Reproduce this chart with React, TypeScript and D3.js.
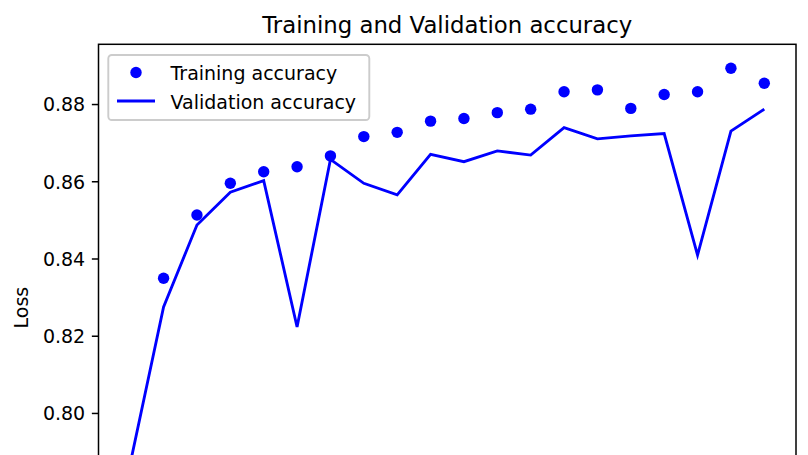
import React from "react";
import * as d3 from "d3";

const epochs = [1, 2, 3, 4, 5, 6, 7, 8, 9, 10, 11, 12, 13, 14, 15, 16, 17, 18, 19, 20];
const trainingAccuracy = [
  0.7654, 0.835, 0.8514, 0.8596, 0.8626, 0.8639, 0.8667, 0.8717, 0.8728, 0.8757,
  0.8764, 0.8779, 0.8788, 0.8833, 0.8838, 0.879, 0.8826, 0.8833, 0.8894, 0.8855,
];
const validationAccuracy = [
  0.787, 0.8276, 0.8488, 0.8573, 0.8603, 0.8224, 0.8658, 0.8596, 0.8566, 0.8671,
  0.8652, 0.868, 0.8669, 0.874, 0.8711, 0.8719, 0.8725, 0.841, 0.8731, 0.8788,
];
const yTickValues = [0.8, 0.82, 0.84, 0.86, 0.88];
const titleText = "Training and Validation accuracy";
const yLabelText = "Loss";
const legendLabels = ["Training accuracy", "Validation accuracy"];

const W = 808;
const H = 455;
const FONT = "DejaVu Sans, sans-serif";
const BLUE = "#0000ff";

export default function App() {
  const left = 98.5;
  const right = 796;
  const top = 44.3;
  const bottom = 571;

  const xMin = d3.min(epochs)!;
  const xMax = d3.max(epochs)!;
  const xPad = (xMax - xMin) * 0.05;
  const x = d3.scaleLinear().domain([xMin - xPad, xMax + xPad]).range([left, right]);

  const all = [...trainingAccuracy, ...validationAccuracy];
  const yMin = d3.min(all)!;
  const yMax = d3.max(all)!;
  const yPad = (yMax - yMin) * 0.05;
  const y = d3.scaleLinear().domain([yMin - yPad, yMax + yPad]).range([bottom, top]);

  const line = d3
    .line<number>()
    .x((_, i) => x(epochs[i]))
    .y((d) => y(d));

  const fs = 19;
  const tickLen = 6.65;

  return (
    <svg
      width={W}
      height={H}
      style={{ position: "absolute", left: 0, top: 0, background: "#fff" }}
      fontFamily={FONT}
    >
      <rect x={0} y={0} width={W} height={H} fill="#fff" />
      <text x={(left + right) / 2} y={33} textAnchor="middle" fontSize={22.8} fill="#000">
        {titleText}
      </text>
      <defs>
        <clipPath id="plotclip">
          <rect x={left} y={top} width={right - left} height={bottom - top} />
        </clipPath>
      </defs>
      <g clipPath="url(#plotclip)">
        <path d={line(validationAccuracy) || ""} fill="none" stroke={BLUE} strokeWidth={2.85} strokeLinejoin="miter" />
        {trainingAccuracy.map((v, i) => (
          <circle key={i} cx={x(epochs[i])} cy={y(v)} r={5.7} fill={BLUE} />
        ))}
      </g>
      {yTickValues.map((t) => (
        <g key={t}>
          <line x1={left - tickLen} x2={left} y1={y(t)} y2={y(t)} stroke="#000" strokeWidth={1.5} />
          <text x={left - tickLen - 6.65} y={y(t)} dy="0.36em" textAnchor="end" fontSize={fs} fill="#000">
            {d3.format(".2f")(t)}
          </text>
        </g>
      ))}
      <text
        transform={`translate(28, ${(top + bottom) / 2}) rotate(-90)`}
        textAnchor="middle"
        fontSize={fs}
        fill="#000"
      >
        {yLabelText}
      </text>
      <rect x={left} y={top} width={right - left} height={bottom - top} fill="none" stroke="#000" strokeWidth={1.5} />
      <g>
        <rect x={108.3} y={55} width={261} height={65} rx={3.5} fill="#fff" fillOpacity={0.8} stroke="#cccccc" strokeWidth={1.9} />
        <circle cx={136} cy={72.5} r={5.7} fill={BLUE} />
        <line x1={117} x2={155} y1={101} y2={101} stroke={BLUE} strokeWidth={2.85} />
        <text x={170.5} y={79.5} fontSize={fs} fill="#000">{legendLabels[0]}</text>
        <text x={170.5} y={108.5} fontSize={fs} fill="#000">{legendLabels[1]}</text>
      </g>
    </svg>
  );
}
